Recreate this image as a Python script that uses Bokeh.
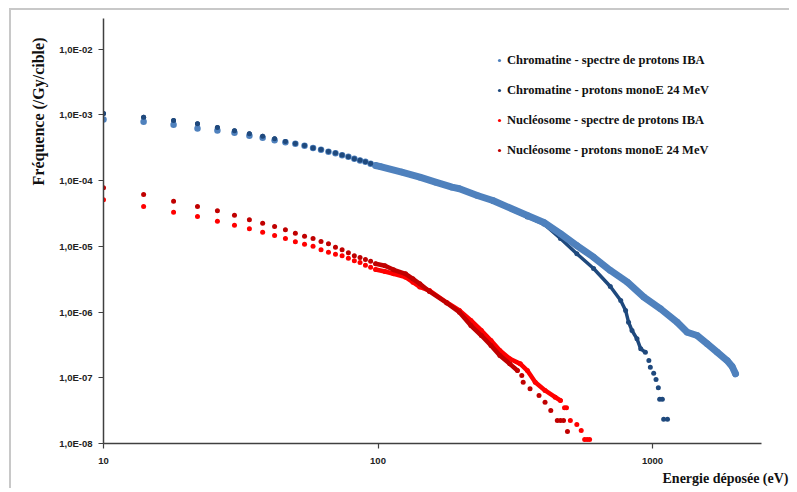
from bokeh.plotting import figure
from bokeh.models import (Range1d, FixedTicker, CustomJSTickFormatter, Legend,
                          LegendItem, Title)
from bokeh.embed import file_html
from bokeh.resources import INLINE

# ---------------- data ----------------
x_ticks = [10, 100, 1000]
x_tick_labels = ["10", "100", "1000"]
y_ticks = [1e-8, 1e-7, 1e-6, 1e-5, 1e-4, 1e-3, 1e-2]
y_tick_labels = ["1,0E-08", "1,0E-07", "1,0E-06", "1,0E-05", "1,0E-04", "1,0E-03", "1,0E-02"]

x_title = "Energie déposée (eV)"
y_title = "Fréquence (/Gy/cible)"

names = ["Chromatine - spectre de protons IBA",
         "Chromatine - protons monoE 24 MeV",
         "Nucléosome - spectre de protons IBA",
         "Nucléosome - protons monoE 24 MeV"]

# Chromatine - spectre de protons IBA
chrom_iba_x = [10, 14, 18, 22, 26, 30, 34, 38, 42, 46, 50, 54, 58, 62, 66, 70, 74, 78, 82, 86,
               90, 94, 98, 102, 122, 142, 162, 186, 198, 230, 262, 350, 402, 462, 530, 610,
               702, 810, 930, 1070, 1230, 1338, 1454, 1582, 1722, 1870, 1950, 2006]
chrom_iba_y = [8.54e-4, 7.88e-4, 7.10e-4, 6.23e-4, 5.81e-4, 5.36e-4, 4.82e-4, 4.50e-4, 4.13e-4,
               3.85e-4, 3.65e-4, 3.40e-4, 3.13e-4, 2.95e-4, 2.75e-4, 2.62e-4, 2.44e-4, 2.31e-4,
               2.15e-4, 2.03e-4, 1.94e-4, 1.81e-4, 1.70e-4, 1.64e-4, 1.35e-4, 1.13e-4, 9.49e-5,
               7.96e-5, 7.53e-5, 5.95e-5, 5.00e-5, 2.95e-5, 2.31e-5, 1.56e-5, 1.03e-5, 6.85e-6,
               4.30e-6, 2.85e-6, 1.69e-6, 1.12e-6, 7.02e-7, 4.94e-7, 4.41e-7, 3.29e-7, 2.45e-7,
               1.83e-7, 1.49e-7, 1.15e-7]

# Chromatine - protons monoE 24 MeV
chrom_mono_x = [10, 14, 18, 22, 26, 30, 34, 38, 42, 46, 50, 54, 58, 62, 66, 70, 74, 78, 82, 86,
                90, 94, 98, 102, 122, 142, 162, 186, 230, 262, 350, 402, 462, 530, 610, 702,
                766, 798, 818, 842, 878, 906, 942, 970, 982, 1010, 1030, 1050, 1062, 1086,
                1098, 1134]
chrom_mono_y = [1.05e-3, 9.26e-4, 8.25e-4, 7.35e-4, 6.45e-4, 5.75e-4, 5.18e-4, 4.76e-4, 4.35e-4,
                3.95e-4, 3.68e-4, 3.42e-4, 3.15e-4, 2.97e-4, 2.77e-4, 2.63e-4, 2.45e-4, 2.32e-4,
                2.16e-4, 2.04e-4, 1.95e-4, 1.82e-4, 1.71e-4, 1.65e-4, 1.36e-4, 1.14e-4, 9.55e-5,
                7.95e-5, 5.90e-5, 4.85e-5, 2.80e-5, 2.19e-5, 1.32e-5, 7.72e-6, 4.61e-6, 2.45e-6,
                1.50e-6, 1.06e-6, 7.02e-7, 5.25e-7, 3.92e-7, 2.76e-7, 2.45e-7, 1.83e-7, 1.45e-7,
                1.17e-7, 9.42e-8, 7.04e-8, 4.72e-8, 4.72e-8, 2.34e-8, 2.34e-8]

# Nucléosome - spectre de protons IBA
nucl_iba_x = [10, 14, 18, 22, 26, 30, 34, 38, 42, 46, 50, 54, 58, 62, 66, 70, 74, 78, 82, 86,
              90, 94, 98, 106, 114, 126, 134, 142, 154, 178, 198, 218, 238, 258, 278, 302, 330,
              350, 374, 406, 442, 462, 478, 486, 502, 530, 550, 566, 578, 590]
nucl_iba_y = [5.12e-5, 4.05e-5, 3.31e-5, 2.85e-5, 2.42e-5, 2.10e-5, 1.85e-5, 1.64e-5, 1.46e-5,
              1.32e-5, 1.175e-5, 1.08e-5, 1.007e-5, 8.87e-6, 8.16e-6, 7.61e-6, 7.19e-6, 6.61e-6,
              6.04e-6, 5.69e-6, 5.18e-6, 4.82e-6, 4.45e-6, 4.15e-6, 3.83e-6, 3.40e-6, 2.85e-6,
              2.41e-6, 2.13e-6, 1.40e-6, 1.06e-6, 7.45e-7, 5.25e-7, 3.70e-7, 2.60e-7, 1.95e-7,
              1.63e-7, 1.29e-7, 8.57e-8, 6.41e-8, 5.07e-8, 4.51e-8, 3.49e-8, 3.49e-8, 2.24e-8,
              1.95e-8, 1.58e-8, 1.15e-8, 1.15e-8, 1.15e-8]

# Nucléosome - protons monoE 24 MeV
nucl_mono_x = [10, 14, 18, 22, 26, 30, 34, 38, 42, 46, 50, 54, 58, 62, 66, 70, 74, 78, 82, 86,
               90, 94, 98, 106, 114, 126, 134, 142, 154, 178, 198, 218, 238, 258, 278, 302, 322,
               334, 338, 358, 386, 406, 426, 450, 462, 474, 490]
nucl_mono_y = [7.80e-5, 6.17e-5, 4.88e-5, 4.05e-5, 3.48e-5, 2.99e-5, 2.54e-5, 2.25e-5, 2.01e-5,
               1.79e-5, 1.59e-5, 1.43e-5, 1.32e-5, 1.19e-5, 1.10e-5, 9.72e-6, 8.87e-6, 7.99e-6,
               7.19e-6, 6.78e-6, 6.32e-6, 5.95e-6, 5.43e-6, 5.07e-6, 4.40e-6, 3.83e-6, 3.21e-6,
               2.70e-6, 2.06e-6, 1.38e-6, 9.97e-7, 6.25e-7, 4.40e-7, 3.10e-7, 2.18e-7, 1.63e-7,
               1.29e-7, 1.08e-7, 8.57e-8, 6.80e-8, 5.38e-8, 4.25e-8, 3.18e-8, 2.24e-8, 2.24e-8,
               2.24e-8, 1.52e-8]

# ---------------- styling ----------------
colors = ["#4F81BD", "#1F497D", "#FF0000", "#C00000"]
marker_sizes = [6.5, 5, 5, 5]
band_widths = [7, 3.5, 4.5, 4.5]
band_ranges = [(98, 2006), (98, 942), (98, 462), (98, 322)]   # where dots merge into a band
draw_order = [1, 0, 2, 3]
# the separate low-energy dots of the monoE chromatine series sit above the IBA ones
redraw_on_top = {1: 98}

p = figure(frame_width=658, frame_height=425, x_axis_type="log", y_axis_type="log",
           x_range=Range1d(10, 2495), y_range=Range1d(1e-8, 0.0294),
           output_backend="svg", toolbar_location=None,
           min_border_left=103, min_border_right=28, min_border_top=18, min_border_bottom=41)
grey = "#c8c8c8"
p.styles = {
    "background-color": "white",
    "background-image": f"linear-gradient({grey}, {grey}), linear-gradient({grey}, {grey})",
    "background-size": "2px 100%, 100% 2px",
    "background-position": "9px 8px, 9px 8px",
    "background-repeat": "no-repeat",
}
p.xgrid.visible = False
p.ygrid.visible = False
p.outline_line_color = None
p.background_fill_color = "white"
p.border_fill_alpha = 0

fmt_code = """
let best = 0; let d = Infinity;
for (let i = 0; i < tvals.length; i++) {
  const dd = Math.abs(Math.log10(tvals[i]) - Math.log10(tick));
  if (dd < d) { d = dd; best = i; }
}
return tlabels[best];
"""
p.xaxis.ticker = FixedTicker(ticks=x_ticks, minor_ticks=[])
p.yaxis.ticker = FixedTicker(ticks=y_ticks, minor_ticks=[])
p.xaxis.formatter = CustomJSTickFormatter(args=dict(tvals=x_ticks, tlabels=x_tick_labels), code=fmt_code)
p.yaxis.formatter = CustomJSTickFormatter(args=dict(tvals=y_ticks, tlabels=y_tick_labels), code=fmt_code)

for ax in (p.xaxis[0], p.yaxis[0]):
    ax.axis_line_color = "#404040"
    ax.axis_line_width = 1.5
    ax.major_tick_line_color = "#404040"
    ax.major_tick_line_width = 1.2
    ax.major_tick_out = 5
    ax.major_tick_in = 0
    ax.minor_tick_line_color = None
    ax.major_label_text_font = "Liberation Sans"
    ax.major_label_text_font_style = "bold"
    ax.major_label_text_font_size = "9.5px"
    ax.major_label_text_color = "#222222"
p.xaxis.major_label_standoff = 9
p.yaxis.major_label_standoff = 6

series = [(chrom_iba_x, chrom_iba_y), (chrom_mono_x, chrom_mono_y),
          (nucl_iba_x, nucl_iba_y), (nucl_mono_x, nucl_mono_y)]

renderers = {}
for i in draw_order:
    xs, ys = series[i]
    lo, hi = band_ranges[i]
    bx = [x for x in xs if lo <= x <= hi]
    by = [y for x, y in zip(xs, ys) if lo <= x <= hi]
    p.line(bx, by, line_color=colors[i], line_width=band_widths[i],
           line_cap="round", line_join="round")
    renderers[i] = p.scatter(xs, ys, size=marker_sizes[i], fill_color=colors[i], line_color=None)
    # redraw earlier series' low-energy dots on top where requested
    for j, lim in redraw_on_top.items():
        if j in renderers and j != i:
            jx, jy = series[j]
            tx = [x for x in jx if x < lim]
            ty = [y for x, y in zip(jx, jy) if x < lim]
            p.scatter(tx, ty, size=marker_sizes[j], fill_color=colors[j], line_color=None)
    redraw_on_top = {j: v for j, v in redraw_on_top.items() if j not in renderers or j == i}

items = [LegendItem(label=names[i], renderers=[renderers[i]]) for i in range(4)]
legend = Legend(items=items, location=(392, 283), orientation="vertical",
                glyph_width=8, glyph_height=20, label_height=20, spacing=10,
                label_standoff=4, padding=0, margin=0,
                border_line_color=None, background_fill_alpha=0,
                label_text_font="Liberation Serif", label_text_font_style="bold",
                label_text_font_size="12.5px", label_text_color="#111111")
p.add_layout(legend, "center")

p.add_layout(Title(text=y_title, align="right", offset=19, standoff=20,
                   text_font="Liberation Serif", text_font_style="bold",
                   text_font_size="16px", text_color="#111111"), "left")
p.add_layout(Title(text=x_title, align="right", offset=-27, standoff=5,
                   text_font="Liberation Serif", text_font_style="bold",
                   text_font_size="14px", text_color="#111111"), "below")

open("out.html", "w").write(file_html(p, INLINE))
